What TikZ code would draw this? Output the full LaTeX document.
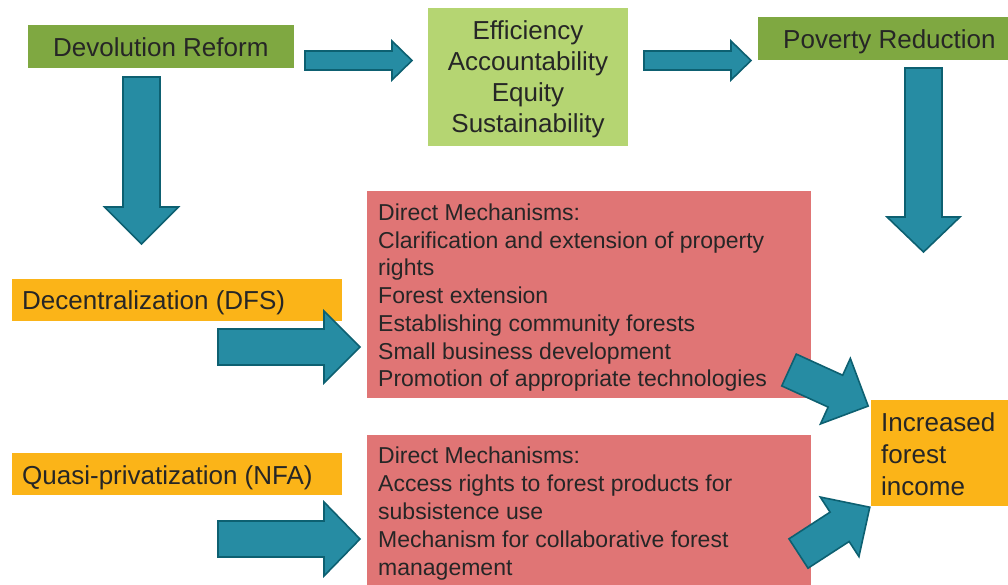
\documentclass[tikz,border=0pt]{standalone}
\usepackage{fontspec}
\setmainfont{Liberation Sans}
\definecolor{olivebox}{RGB}{127,168,65}
\definecolor{limebox}{RGB}{181,213,114}
\definecolor{redbox}{RGB}{224,117,117}
\definecolor{amberbox}{RGB}{251,180,24}
\definecolor{tealfill}{RGB}{38,140,163}
\definecolor{tealedge}{RGB}{13,96,113}
\definecolor{ink}{RGB}{38,38,38}
\begin{document}
\begin{tikzpicture}[x=1pt,y=-1pt,
  box/.style={rectangle, draw=none, inner sep=0pt, anchor=north west},
  big/.style={font=\fontsize{26}{31.3}\selectfont, text=ink, inner sep=0pt},
  small/.style={font=\fontsize{23}{27.7}\selectfont, text=ink, inner sep=0pt, align=left, anchor=base west},
  pics/blockarrow/.style n args={4}{code={
    \path[fill=tealfill, draw=tealedge, line width=1.6pt, line join=miter]
      (0,-#2/2) -- (#1-#4,-#2/2) -- (#1-#4,-#3/2) -- (#1,0)
      -- (#1-#4,#3/2) -- (#1-#4,#2/2) -- (0,#2/2) -- cycle;
  }}
]
\useasboundingbox (0,0) rectangle (1008,584);

% coloured boxes
\node[box, fill=olivebox, minimum width=266pt, minimum height=43pt] (devo) at (28,25) {};
\node[box, fill=limebox, minimum width=200pt, minimum height=138pt] (goals) at (428,8) {};
\node[box, fill=olivebox, minimum width=252pt, minimum height=43pt] (pov) at (758,17) {};
\node[box, fill=amberbox, minimum width=330pt, minimum height=42pt] (dfs) at (12,279) {};
\node[box, fill=amberbox, minimum width=330pt, minimum height=42pt] (nfa) at (12,453) {};
\node[box, fill=redbox, minimum width=444pt, minimum height=207pt] (mech1) at (367,191) {};
\node[box, fill=redbox, minimum width=444pt, minimum height=152pt] (mech2) at (367,435) {};
\node[box, fill=amberbox, minimum width=140pt, minimum height=106pt] (income) at (871,400) {};

% texts (multi-line nodes are placed by the baseline of their last line)
\node[big, anchor=base west] (devo-t) at (53,56) {Devolution Reform};
\node[big, anchor=base, align=center] (goals-t) at (528,132.9)
  {Efficiency\\Accountability\\Equity\\Sustainability};
\node[big, anchor=base west] (pov-t) at (783,48) {Poverty Reduction};
\node[big, anchor=base west] (dfs-t) at (22,309) {Decentralization (DFS)};
\node[big, anchor=base west] (nfa-t) at (22,484) {Quasi-privatization (NFA)};
\node[big, anchor=base west, align=left, font=\fontsize{26}{32}\selectfont] (income-t) at (881,495)
  {Increased\\forest\\income};
\node[small] (mech1-t) at (378,386.7)
  {Direct Mechanisms:\\
   Clarification and extension of property\\
   rights\\
   Forest extension\\
   Establishing community forests\\
   Small business development\\
   Promotion of appropriate technologies};
\node[small, font=\fontsize{23}{28}\selectfont] (mech2-t) at (378,575.5)
  {Direct Mechanisms:\\
   Access rights to forest products for\\
   subsistence use\\
   Mechanism for collaborative forest\\
   management};

% block arrows
\pic at (305,60.5) {blockarrow={107}{19}{39}{20}};
\pic at (644,60.5) {blockarrow={107}{19}{39}{20}};
\pic[rotate=-90] at (141.5,77) {blockarrow={167}{37}{74}{37}};
\pic[rotate=-90] at (923.5,68) {blockarrow={184}{37}{73}{35}};
\pic at (218,347) {blockarrow={142}{36}{72}{36}};
\pic at (218,539) {blockarrow={142}{36}{74}{36}};
\pic[rotate=-24.5] at (789,370) {blockarrow={87}{35}{72}{36}};
\pic[rotate=33] at (798.5,553.5) {blockarrow={85}{35}{71}{36}};
\end{tikzpicture}
\end{document}
